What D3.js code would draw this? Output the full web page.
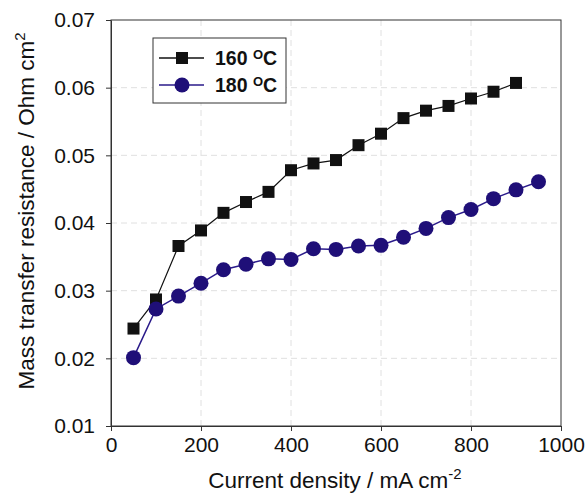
<!DOCTYPE html>
<html>
<head>
<meta charset="utf-8">
<script src="https://cdn.jsdelivr.net/npm/d3@7"></script>
<style>
  html, body { margin: 0; padding: 0; background: #fff; }
  svg { display: block; font-family: Arial, "Liberation Sans", sans-serif; }
</style>
</head>
<body>
<svg id="chart" width="587" height="493"></svg>
<script>
// Current density (mA cm-2) and mass transfer resistance (Ohm cm2)
const current160 = [50, 100, 150, 200, 250, 300, 350, 400, 450, 500, 550, 600, 650, 700, 750, 800, 850, 900];
const resist160  = [0.0244, 0.0287, 0.0366, 0.0389, 0.0415, 0.0431, 0.0446, 0.0478, 0.0488, 0.0493,
                    0.0515, 0.0532, 0.0555, 0.0566, 0.0573, 0.0584, 0.0594, 0.0607];
const current180 = [50, 100, 150, 200, 250, 300, 350, 400, 450, 500, 550, 600, 650, 700, 750, 800, 850, 900, 950];
const resist180  = [0.0201, 0.0273, 0.0292, 0.0311, 0.0331, 0.0339, 0.0347, 0.0346, 0.0362, 0.0361,
                    0.0366, 0.0367, 0.0379, 0.0392, 0.0408, 0.0420, 0.0436, 0.0449, 0.0461];
const xTicks = [0, 200, 400, 600, 800, 1000];
const yTicks = [0.01, 0.02, 0.03, 0.04, 0.05, 0.06, 0.07];
const seriesNames = ["160", "180"];

const svg = d3.select("#chart");
const m = { left: 111, right: 561, top: 20, bottom: 426 };

const x = d3.scaleLinear().domain([0, 1000]).range([m.left, m.right]);
const y = d3.scaleLinear().domain([0.01, 0.07]).range([m.bottom, m.top]);

// dashed grid
const grid = svg.append("g").attr("stroke", "#e0e0e0").attr("stroke-dasharray", "6,4").attr("stroke-width", 1);
xTicks.slice(1, -1).forEach(t => grid.append("line")
  .attr("x1", x(t)).attr("x2", x(t)).attr("y1", m.top).attr("y2", m.bottom));
yTicks.slice(1, -1).forEach(t => grid.append("line")
  .attr("x1", m.left).attr("x2", m.right).attr("y1", y(t)).attr("y2", y(t)));

// axes
const xAxis = svg.append("g").attr("transform", `translate(0,${m.bottom})`)
  .call(d3.axisBottom(x).tickValues(xTicks).tickFormat(d3.format("d")).tickSize(5).tickSizeOuter(0).tickPadding(6));
const yAxis = svg.append("g").attr("transform", `translate(${m.left},0)`)
  .call(d3.axisLeft(y).tickValues(yTicks).tickFormat(d3.format(".2f")).tickSize(5).tickSizeOuter(0).tickPadding(11));
[xAxis, yAxis].forEach(a => {
  a.selectAll("path, line").attr("stroke", "#333").attr("stroke-width", 1);
  a.selectAll("text").attr("font-size", 21).attr("fill", "#111").attr("font-family", "Arial, 'Liberation Sans', sans-serif");
});

// frame on top and right
svg.append("rect").attr("x", m.left).attr("y", m.top)
  .attr("width", m.right - m.left).attr("height", m.bottom - m.top)
  .attr("fill", "none").attr("stroke", "#333").attr("stroke-width", 1);

// series
const line = d3.line().x(d => x(d[0])).y(d => y(d[1]));
const d160 = current160.map((c, i) => [c, resist160[i]]);
const d180 = current180.map((c, i) => [c, resist180[i]]);

svg.append("path").datum(d160).attr("d", line).attr("fill", "none").attr("stroke", "#111").attr("stroke-width", 1.2);
svg.append("g").selectAll("rect").data(d160).join("rect")
  .attr("x", d => x(d[0]) - 6).attr("y", d => y(d[1]) - 6)
  .attr("width", 12).attr("height", 12).attr("fill", "#111");

svg.append("path").datum(d180).attr("d", line).attr("fill", "none").attr("stroke", "#2a1a8a").attr("stroke-width", 1.5);
svg.append("g").selectAll("circle").data(d180).join("circle")
  .attr("cx", d => x(d[0])).attr("cy", d => y(d[1])).attr("r", 7.5).attr("fill", "#1f0f78");

// legend
const lg = svg.append("g");
lg.append("rect").attr("x", 153).attr("y", 38).attr("width", 133).attr("height", 65)
  .attr("fill", "#fff").attr("stroke", "#333").attr("stroke-width", 1);
const rows = [{ yy: 58, color: "#111", stroke: "#111", shape: "square" },
              { yy: 85, color: "#1f0f78", stroke: "#2a1a8a", shape: "circle" }];
rows.forEach((r, i) => {
  lg.append("line").attr("x1", 159).attr("x2", 204).attr("y1", r.yy).attr("y2", r.yy)
    .attr("stroke", r.stroke).attr("stroke-width", 1.3);
  if (r.shape === "square") {
    lg.append("rect").attr("x", 182 - 6).attr("y", r.yy - 6).attr("width", 12).attr("height", 12).attr("fill", r.color);
  } else {
    lg.append("circle").attr("cx", 182).attr("cy", r.yy).attr("r", 7.5).attr("fill", r.color);
  }
  const t = lg.append("text").attr("x", 215).attr("y", r.yy + 7)
    .attr("font-size", 19.5).attr("font-weight", "bold").attr("fill", "#111");
  t.append("tspan").text(seriesNames[i] + " ");
  t.append("tspan").attr("font-size", 13).attr("dy", -6).text("O");
  t.append("tspan").attr("dy", 6).text("C");
});

// axis titles
const xt = svg.append("text").attr("x", 335).attr("y", 488).attr("text-anchor", "middle")
  .attr("font-size", 22.5).attr("fill", "#111");
xt.append("tspan").text("Current density / mA cm");
xt.append("tspan").attr("font-size", 15).attr("dy", -9).text("-2");

const yt = svg.append("text").attr("transform", "translate(34,211) rotate(-90)").attr("text-anchor", "middle")
  .attr("font-size", 22.5).attr("fill", "#111");
yt.append("tspan").text("Mass transfer resistance / Ohm cm");
yt.append("tspan").attr("font-size", 15).attr("dy", -9).text("2");
</script>
</body>
</html>
